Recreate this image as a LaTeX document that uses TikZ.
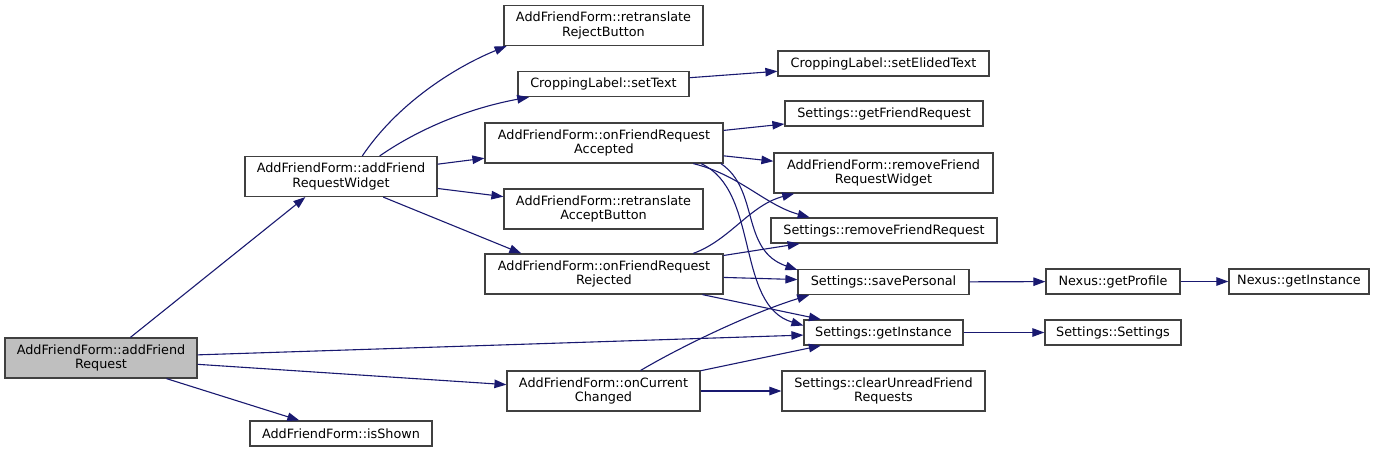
\documentclass[tikz,border=0pt]{standalone}
\usepackage{fontspec}
\setmainfont{DejaVu Sans}
\usetikzlibrary{arrows.meta}
\definecolor{edgeblue}{HTML}{191970}
\definecolor{boxgray}{HTML}{BFBFBF}
\definecolor{boxline}{HTML}{404040}
\begin{document}
\begin{tikzpicture}[x=1pt,y=-1pt,
		fn/.style={draw=boxline,line width=1.2pt,fill=white,inner sep=0pt,minimum height=25pt,align=center,font=\fontsize{12.8}{14.8}\selectfont},
		fn2/.style={fn,minimum height=40pt},
		call/.style={draw=edgeblue,line width=1.1pt,-{Triangle[length=12pt,width=8.5pt]}}]
		\useasboundingbox (0,0) rectangle (1381,453);
		\node[fn2,fill=boxgray,minimum width=192] (req) at (101,358) {AddFriendForm::addFriend\\Request};
		\node[fn2,minimum width=192] (widget) at (341,176.5) {AddFriendForm::addFriend\\RequestWidget};
		\node[fn,minimum width=182] (shown) at (341,433.5) {AddFriendForm::isShown};
		\node[fn2,minimum width=193] (curchg) at (603.5,391) {AddFriendForm::onCurrent\\Changed};
		\node[fn2,minimum width=199] (rejbtn) at (603.5,25.5) {AddFriendForm::retranslate\\RejectButton};
		\node[fn,minimum width=171] (settext) at (603.5,84) {CroppingLabel::setText};
		\node[fn2,minimum width=238] (accepted) at (604,143) {AddFriendForm::onFriendRequest\\Accepted};
		\node[fn2,minimum width=199] (accbtn) at (603.5,209) {AddFriendForm::retranslate\\AcceptButton};
		\node[fn2,minimum width=238] (rejected) at (604,274) {AddFriendForm::onFriendRequest\\Rejected};
		\node[fn,minimum width=211] (elided) at (883.5,63.5) {CroppingLabel::setElidedText};
		\node[fn,minimum width=198] (getfr) at (884,113.5) {Settings::getFriendRequest};
		\node[fn2,minimum width=219] (rmwidget) at (883.5,173) {AddFriendForm::removeFriend\\RequestWidget};
		\node[fn,minimum width=226] (rmfr) at (884,230.5) {Settings::removeFriendRequest};
		\node[fn,minimum width=171] (save) at (883.5,282) {Settings::savePersonal};
		\node[fn,minimum width=159] (inst) at (883.5,332.5) {Settings::getInstance};
		\node[fn2,minimum width=203] (clear) at (883.5,391) {Settings::clearUnreadFriend\\Requests};
		\node[fn,minimum width=134] (profile) at (1113,281.5) {Nexus::getProfile};
		\node[fn,minimum width=140] (nexinst) at (1299,281.5) {Nexus::getInstance};
		\node[fn,minimum width=136] (sset) at (1113,332.5) {Settings::Settings};
		\draw[call] (req.35) -- (widget.-150);
		\draw[call] (req) -- (inst);
		\draw[call] (req) -- (curchg);
		\draw[call] (req) -- (shown);
		\draw[call] (widget.44) .. controls (400,100) and (460,65) .. (rejbtn.-168);
		\draw[call] (widget.28) .. controls (420,128) and (470,108) .. (settext.-170);
		\draw[call] (widget) -- (accepted);
		\draw[call] (widget) -- (accbtn);
		\draw[call] (widget.-26) -- (rejected.166);
		\draw[call] (settext) -- (elided);
		\draw[call] (accepted) -- (getfr);
		\draw[call] (accepted) -- (rmwidget);
		\draw[call] (accepted.-13) .. controls (740,175) and (765,205) .. (rmfr.170);
		\draw[call] (accepted.-10) .. controls (760,190) and (740,250) .. (save.172);
		\draw[call] (accepted.-12) .. controls (760,190) and (735,305) .. (inst.175);
		\draw[call] (rejected.13) .. controls (730,240) and (750,205) .. (rmwidget.-167);
		\draw[call] (rejected) -- (rmfr);
		\draw[call] (rejected) -- (save);
		\draw[call] (rejected) -- (inst);
		\draw[call] (curchg.29) .. controls (675,350) and (745,315) .. (save.-170);
		\draw[call] (curchg) -- (inst);
		\draw[call] (curchg) -- (clear);
		\draw[call] (save) -- (profile);
		\draw[call] (profile) -- (nexinst);
		\draw[call] (inst) -- (sset);
	\end{tikzpicture}
\end{document}
